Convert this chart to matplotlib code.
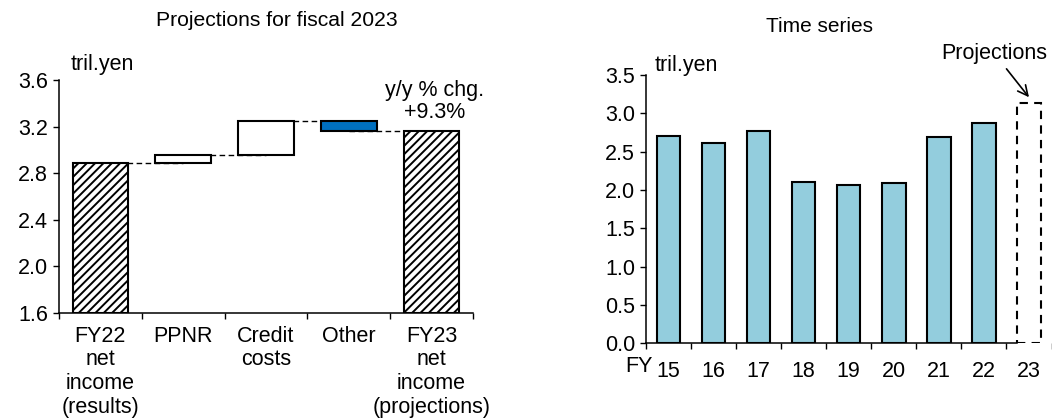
import numpy as np
import matplotlib
matplotlib.use('Agg')
import matplotlib.pyplot as plt

plt.rcParams['font.family'] = ['Liberation Sans', 'DejaVu Sans']
plt.rcParams['font.size'] = 15.5
plt.rcParams['hatch.linewidth'] = 1.4


# Data

# Projections for fiscal 2023 (tril. yen)
wf_labels = ['FY22\nnet\nincome\n(results)', 'PPNR', 'Credit\ncosts', 'Other',
             'FY23\nnet\nincome\n(projections)']
fy22_income = 2.89
wf_changes = [0.07, 0.29, -0.09]
fy23_income = 3.16
yoy_label = 'y/y % chg.\n+9.3%'

# Time series (tril. yen)
ts_years = ['15', '16', '17', '18', '19', '20', '21', '22', '23']
ts_income = [2.71, 2.61, 2.77, 2.11, 2.06, 2.09, 2.69, 2.88, 3.14]
n_proj = 1


W, H = 1052, 420
fig = plt.figure(figsize=(W / 100, H / 100), dpi=100)


def style_axis(ax):
    ax.spines['top'].set_visible(False)
    ax.spines['right'].set_visible(False)
    ax.spines['left'].set_linewidth(1.1)
    ax.spines['bottom'].set_linewidth(1.1)
    ax.tick_params(axis='both', which='major', direction='out', length=4.5, width=1.0)
    ax.tick_params(axis='x', which='major', labelbottom=False)
    ax.tick_params(axis='x', which='minor', length=0)
    ax.set_facecolor('none')


#############################
#     Waterfall (left)      #
#############################

ax1 = fig.add_axes([59 / W, 1 - 313 / H, 414 / W, 233 / H])
style_axis(ax1)

levels = np.concatenate([[fy22_income], fy22_income + np.cumsum(wf_changes)])
bottoms = [1.6, *levels[:-1], 1.6]
heights = [fy22_income - 1.6, *wf_changes, fy23_income - 1.6]
fills = ['white', 'white', 'white', '#0070C0', 'white']
hatches = ['////', None, None, None, '////']
x1 = np.arange(len(wf_labels))

for i in range(len(x1)):
    ax1.bar(x1[i], heights[i], bottom=bottoms[i], width=0.67, color=fills[i],
            edgecolor='black', linewidth=1.5, hatch=hatches[i], zorder=2)

# dashed connectors between the steps
conn_levels = [*levels[:-1], fy23_income]
for i in range(len(x1) - 1):
    ax1.plot([x1[i], x1[i + 1]], [conn_levels[i], conn_levels[i]], color='black',
             lw=1.0, ls=(0, (4, 2.5)), zorder=1)

ax1.set_xlim(-0.5, len(x1) - 0.5)
ax1.set_ylim(1.6, 3.6)
ax1.set_yticks(np.arange(1.6, 3.61, 0.4))
ax1.yaxis.set_major_formatter(matplotlib.ticker.FormatStrFormatter('%.1f'))
ax1.set_xticks(np.arange(-0.5, len(x1)), minor=False)
ax1.set_xticks(x1, minor=True)
ax1.set_xticklabels(wf_labels, minor=True, linespacing=1.17)
ax1.tick_params(axis='x', which='minor', pad=9)

ax1.annotate('tril.yen', xy=(0, 1), xycoords='axes fraction', xytext=(8.5, 11),
             textcoords='offset points', ha='left', va='center')
ax1.annotate(yoy_label, xy=(x1[-1], fy23_income), xytext=(2, 6),
             textcoords='offset points', ha='center', va='bottom', linespacing=1.05)

fig.text(277 / W, 1 - 21 / H, 'Projections for fiscal 2023', ha='center', va='center',
         fontsize=15.2)


#############################
#     Time series (right)   #
#############################

ax2 = fig.add_axes([646 / W, 1 - 343.3 / H, 405.5 / W, 268.3 / H])
style_axis(ax2)

x2 = np.arange(len(ts_years))
n_act = len(ts_years) - n_proj
ax2.bar(x2[:n_act], ts_income[:n_act], width=0.52, color='#93CDDD',
        edgecolor='black', linewidth=1.5, zorder=2)
ax2.bar(x2[n_act:], ts_income[n_act:], width=0.52, color='white',
        edgecolor='black', linewidth=1.5, linestyle=(0, (4, 3)), zorder=2)

ax2.set_xlim(-0.5, len(x2) - 0.5)
ax2.set_ylim(0, 3.5)
ax2.set_yticks(np.arange(0, 3.51, 0.5))
ax2.yaxis.set_major_formatter(matplotlib.ticker.FormatStrFormatter('%.1f'))
ax2.set_xticks(np.arange(-0.5, len(x2)), minor=False)
ax2.set_xticks(x2, minor=True)
ax2.set_xticklabels(ts_years, minor=True)
ax2.tick_params(axis='x', which='minor', pad=13)
ax2.spines['bottom'].set_bounds(-0.5, n_act - 0.26)

ax2.annotate('tril.yen', xy=(0, 1), xycoords='axes fraction', xytext=(6.5, 7),
             textcoords='offset points', ha='left', va='center')
ax2.annotate('FY', xy=(0, 0), xycoords='axes fraction', xytext=(-5, -16.5),
             textcoords='offset points', ha='center', va='center')
ax2.annotate('Projections', xy=(x2[-1], ts_income[-1] + 0.07), xytext=(-25, 24),
             textcoords='offset points', ha='center', va='bottom',
             arrowprops=dict(arrowstyle='->', color='black', lw=1.2,
                             shrinkA=2, shrinkB=0, mutation_scale=18))

fig.text(820 / W, 1 - 27 / H, 'Time series', ha='center', va='center', fontsize=15)

fig.savefig('out.png', dpi=100)
